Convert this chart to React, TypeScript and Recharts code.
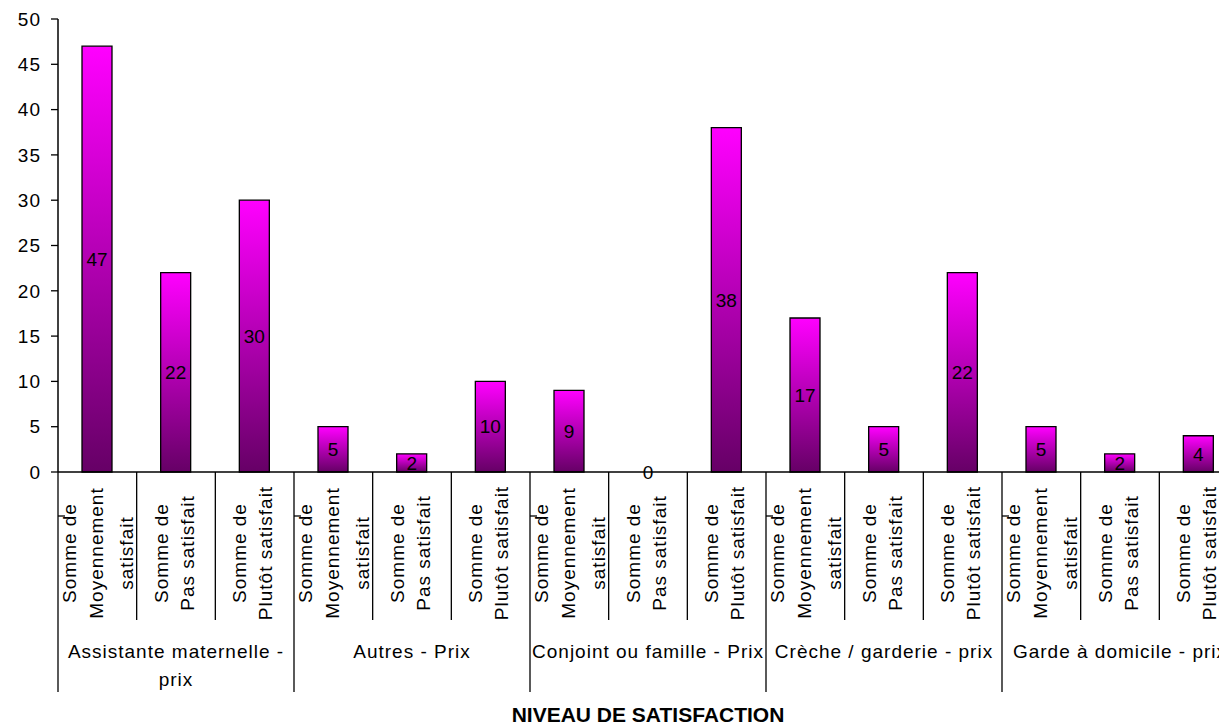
import React from "react";
import { BarChart, Bar, XAxis, YAxis, LabelList, Label } from "recharts";

const groupNames: string[][] = [
  ["Assistante maternelle -", "prix"],
  ["Autres - Prix"],
  ["Conjoint ou famille - Prix"],
  ["Crèche / garderie - prix"],
  ["Garde à domicile - prix"],
];
const levelLabels: string[][] = [
  ["Somme de", "Moyennement", "satisfait"],
  ["Somme de", "Pas satisfait"],
  ["Somme de", "Plutôt satisfait"],
];
const moyennement = [47, 5, 9, 17, 5];
const pasSatisfait = [22, 2, 0, 5, 2];
const plutotSatisfait = [30, 10, 38, 22, 4];
const yTicks = [0, 5, 10, 15, 20, 25, 30, 35, 40, 45, 50];
const axisTitle = "NIVEAU DE SATISFACTION";

const seriesByLevel = [moyennement, pasSatisfait, plutotSatisfait];
const data = groupNames.flatMap((g, gi) =>
  levelLabels.map((_, li) => ({
    key: `${gi}-${li}`,
    group: gi,
    level: li,
    value: seriesByLevel[li][gi],
  }))
);

const FONT = "'Liberation Sans', Arial, sans-serif";
const CHART_W = 1240;
const CHART_H = 725;
const LEFT = 58;
const RIGHT_M = 2;
const PLOT_W = CHART_W - LEFT - RIGHT_M;
const BAND = PLOT_W / data.length;

const textStyle = { fontFamily: FONT, fontSize: 19, letterSpacing: 1, fill: "#000" };

function CatTick(props: any) {
  const { x, y, payload } = props;
  const idx = payload.index;
  const row = data[idx];
  const left = x - BAND / 2;
  const isGroupStart = row.level === 0;
  const lines = levelLabels[row.level];
  const offsets = lines.length === 3 ? [-28, -1, 29] : [-15, 11];
  return (
    <g>
      <line x1={left} y1={y} x2={left} y2={y + (isGroupStart ? 220 : 148)} stroke="#000" strokeWidth={1.3} />
      {isGroupStart && (
        <line x1={left} y1={y + 44} x2={left + 7} y2={y + 44} stroke="#000" strokeWidth={1.3} />
      )}
      {row.value === 0 && (
        <text x={x} y={y} textAnchor="middle" dominantBaseline="central" style={{ fontFamily: FONT, fontSize: 19, fill: "#000" }}>
          {row.value}
        </text>
      )}
      {lines.map((t, i) => (
        <text
          key={i}
          transform={`translate(${x + offsets[i]}, ${y + 81}) rotate(-90)`}
          textAnchor="middle"
          dominantBaseline="central"
          style={textStyle}
        >
          {t}
        </text>
      ))}
      {row.level === 1 &&
        groupNames[row.group].map((t, i) => (
          <text
            key={"g" + i}
            x={x}
            y={y + 179 + i * 28}
            textAnchor="middle"
            dominantBaseline="central"
            style={textStyle}
          >
            {t}
          </text>
        ))}
    </g>
  );
}

export default function App() {
  return (
    <div
      style={{
        position: "absolute",
        left: 0,
        top: 0,
        width: 1219,
        height: 725,
        overflow: "hidden",
        background: "#fff",
      }}
    >
      <BarChart
        width={CHART_W}
        height={CHART_H}
        data={data}
        margin={{ top: 19, right: RIGHT_M, left: 0, bottom: 0 }}
        barCategoryGap={0}
      >
        <defs>
          <linearGradient id="barGrad" x1="0" y1="0" x2="0" y2="1">
            <stop offset="0%" stopColor="#FF00FF" />
            <stop offset="100%" stopColor="#660066" />
          </linearGradient>
        </defs>
        <YAxis
          width={LEFT}
          domain={[0, 50]}
          ticks={yTicks}
          interval={0}
          tickSize={7}
          tickMargin={10}
          axisLine={{ stroke: "#000", strokeWidth: 1.5 }}
          tickLine={{ stroke: "#000", strokeWidth: 1.3 }}
          tick={{ fontFamily: FONT, fontSize: 19, letterSpacing: 1, fill: "#000" }}
        />
        <XAxis
          dataKey="key"
          height={CHART_H - 472}
          interval={0}
          tickSize={0}
          tickMargin={0}
          tickLine={false}
          axisLine={{ stroke: "#000", strokeWidth: 1.5 }}
          tick={<CatTick />}
        >
          <Label
            value={axisTitle}
            position="insideBottom"
            offset={3}
            style={{ fontFamily: FONT, fontSize: 21, fontWeight: "bold", fill: "#000" }}
          />
        </XAxis>
        <Bar
          dataKey="value"
          barSize={30}
          fill="url(#barGrad)"
          stroke="#000"
          strokeWidth={1.3}
          isAnimationActive={false}
        >
          <LabelList
            dataKey="value"
            position="center"
            style={{ fontFamily: FONT, fontSize: 19, fill: "#000" }}
          />
        </Bar>
      </BarChart>
    </div>
  );
}
